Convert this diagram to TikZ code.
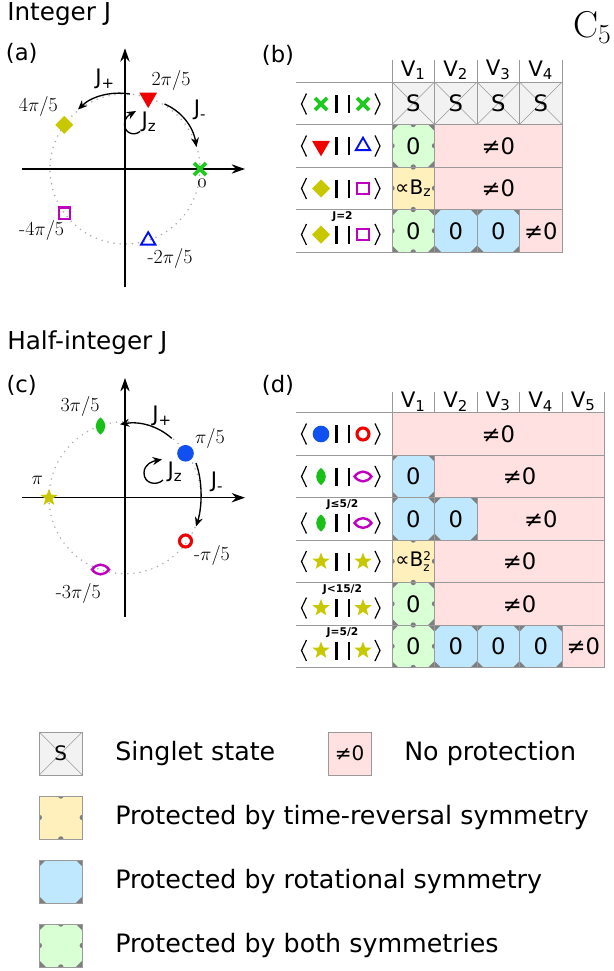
\documentclass[tikz,border=0pt]{standalone}
\usepackage[no-math]{fontspec}
\setmainfont{DejaVu Sans}
\usetikzlibrary{arrows.meta,shapes.geometric,shapes.misc}

\definecolor{mkgreen}{HTML}{22C822}
\definecolor{mkred}{HTML}{F00000}
\definecolor{mkblue}{HTML}{0010F0}
\definecolor{mkdotblue}{HTML}{1050F0}
\definecolor{mkolive}{HTML}{C8C800}
\definecolor{mkmagenta}{HTML}{C000C0}
\definecolor{mklensgreen}{HTML}{18C018}
\definecolor{csinglet}{HTML}{F2F2F2}
\definecolor{cpink}{HTML}{FFE1E1}
\definecolor{cyellow}{HTML}{FFF0BC}
\definecolor{cblue}{HTML}{BFE8FF}
\definecolor{cgreen}{HTML}{D9FFD5}
\definecolor{cellline}{HTML}{9A9A9A}
\definecolor{notchgray}{HTML}{7F7F7F}

\newcommand\angfont{\usefont{TU}{lmr}{m}{n}\fontsize{15}{15}\selectfont}
\newcommand\cfivefont{\usefont{TU}{lmr}{m}{n}\fontsize{28}{28}\selectfont}

% gray corners = rotational symmetry, gray half dots = time reversal
\newcommand\cutcorners{%
  \foreach \c/\sx/\sy in {north west/1/1,north east/-1/1,south west/1/-1,south east/-1/-1}
    \fill[notchgray] (path picture bounding box.\c) -- ++(6.5*\sx,0) -- ++(-6.5*\sx,6.5*\sy) -- cycle;}
\newcommand\midnotches{%
  \foreach \c in {north,south,east,west}
    \fill[notchgray] (path picture bounding box.\c) circle[radius=2.7];}

% one row label <a||b>
\newcommand\ketrow[4]{%
  \draw[ketline] (306.5,#2-10.5) -- (301.5,#2) -- (306.5,#2+10.5);
  \pic (#1l) at (321,#2) {#3};
  \draw[barline] (336.5,#2-9) -- (336.5,#2+9);
  \draw[barline] (349,#2-9) -- (349,#2+9);
  \pic (#1r) at (363,#2) {#4};
  \draw[ketline] (375,#2-10.5) -- (380,#2) -- (375,#2+10.5);}

\tikzset{
  mk/.style={inner sep=0pt, outer sep=0pt},
  mkcross/.pic={\node[mk, cross out, draw=mkgreen, line width=2.9pt, minimum size=9pt] (-m) {};},
  mktridown/.pic={\node[mk, regular polygon, regular polygon sides=3, shape border rotate=180, fill=mkred, minimum size=15.5pt] (-m) {};},
  mktriup/.pic={\node[mk, regular polygon, regular polygon sides=3, draw=mkblue, line width=1.4pt, minimum size=12.5pt] (-m) {};},
  mkdiamond/.pic={\node[mk, diamond, fill=mkolive, minimum size=13.5pt] (-m) {};},
  mksquare/.pic={\node[mk, draw=mkmagenta, line width=1.7pt, minimum size=8.5pt] (-m) {};},
  mkdot/.pic={\node[mk, circle, fill=mkdotblue, minimum size=12.5pt] (-m) {};},
  mkring/.pic={\node[mk, circle, draw=mkred, line width=2.3pt, minimum size=9pt] (-m) {};},
  mkstar/.pic={\node[mk, star, star points=5, star point ratio=2.4, fill=mkolive, minimum size=13.5pt] (-m) {};},
  mkvlens/.pic={\fill[mklensgreen] (0,-8.5) .. controls (6.5,-3.5) and (6.5,3.5) .. (0,8.5) .. controls (-6.5,3.5) and (-6.5,-3.5) .. cycle;},
  mkhlens/.pic={\draw[mkmagenta, line width=1.8pt] (-8.5,0) .. controls (-3.5,-6.5) and (3.5,-6.5) .. (8.5,0) .. controls (3.5,6.5) and (-3.5,6.5) .. cycle;},
  ketline/.style={line width=0.9pt},
  barline/.style={line width=1.9pt},
}

\begin{document}
\begin{tikzpicture}[x=0.75pt, y=-0.75pt,
  title/.style={font=\fontsize{18.5}{18.5}\selectfont, inner sep=0pt, anchor=west},
  panel/.style={font=\fontsize{17}{17}\selectfont, inner sep=0pt},
  angl/.style={font=\angfont, inner sep=0pt},
  jlab/.style={font=\fontsize{16}{16}\selectfont, inner sep=0pt},
  vhead/.style={font=\fontsize{16}{16}\selectfont, inner sep=0pt},
  jcond/.style={font=\bfseries\fontsize{8}{8}\selectfont, inner sep=0pt},
  axis/.style={line width=1.1pt, -{Stealth[length=10pt,width=7pt]}},
  jarrow/.style={line width=1pt, -{Stealth[length=7pt,width=6pt]}},
  orbit/.style={gray!65, line width=1.3pt, line cap=round, dash pattern=on 0pt off 4.6pt},
  gridline/.style={cellline, line width=0.75pt},
  cell/.style={draw=cellline, line width=0.6pt, inner sep=0pt, outer sep=0pt,
    minimum width=31.875pt, minimum height=31.875pt, font=\fontsize{17}{17}\selectfont},
  ncols/.style={minimum width=#1*31.875pt},
  singletcell/.style={cell, fill=csinglet, path picture={
    \draw[cellline, line width=0.45pt] (path picture bounding box.north west) -- (path picture bounding box.south east)
      (path picture bounding box.north east) -- (path picture bounding box.south west);}},
  pinkcell/.style={cell, fill=cpink},
  trcell/.style={cell, fill=cyellow, path picture={\midnotches}},
  rotcell/.style={cell, fill=cblue, path picture={\cutcorners}},
  bothcell/.style={cell, fill=cgreen, path picture={\cutcorners\midnotches}},
  smalltext/.style={font=\fontsize{15}{15}\selectfont},
  legsize/.style={minimum width=32.25pt, minimum height=32.25pt, font=\fontsize{15}{15}\selectfont},
  legtext/.style={anchor=west, inner sep=0pt, font=\fontsize{19}{19}\selectfont},
]
\useasboundingbox (0,0) rectangle (614,971);

% headings
\node[title] (tint) at (7,14) {Integer J};
\node[title] (thalf) at (7,343) {Half-integer J};
\node[panel] (pa) at (21.7,53) {(a)};
\node[panel] (pb) at (278,55) {(b)};
\node[panel] (pc) at (21.7,385) {(c)};
\node[panel] (pd) at (278,385) {(d)};
\node[inner sep=0pt, anchor=base west, font=\cfivefont] (cfive) at (573,37) {C$_5$};

% (a) integer J
\draw[orbit] (125,169) circle[radius=75];
\draw[axis] (21.7,169) -- (245,169);
\draw[axis] (125,286.7) -- (125,48.3);
\pic (a0) at (200,169) {mkcross};
\pic (a72) at (148.2,97.7) {mktridown};
\pic (a144) at (64.3,124.9) {mkdiamond};
\pic (am144) at (64.3,213.1) {mksquare};
\pic (am72) at (148.2,240.5) {mktriup};
\node[angl] (la72) at (171,80) {2$\pi$/5};
\node[angl] (la144) at (38.3,106) {4$\pi$/5};
\node[angl] (la0) at (202,183) {$\mathnormal{0}$};
\node[angl] (lam144) at (41.7,230) {-4$\pi$/5};
\node[angl] (lam72) at (170,258.3) {-2$\pi$/5};
\coordinate (jpa1) at (130,94);
\coordinate (jpa2) at (78,109.5);
\coordinate (jma1) at (164.5,104);
\coordinate (jma2) at (196.5,147);
\coordinate (jza1) at (140,131.5);
\coordinate (jza2) at (136,111);
\draw[jarrow] (jpa1) .. controls (112,91) and (92,96) .. (jpa2);
\draw[jarrow] (jma1) .. controls (181,111) and (193,126) .. (jma2);
\draw[jarrow] (jza1) .. controls (133,137) and (124,132) .. (124.5,124) .. controls (125,117) and (129,115) .. (jza2);
\node[jlab] (jpa) at (105,79) {J\textsubscript{+}};
\node[jlab] (jma) at (200,110) {J\textsubscript{-}};
\node[jlab] (jza) at (149,122) {J\textsubscript{z}};

% (c) half-integer J
\draw[orbit] (125,497.7) circle[radius=76];
\draw[axis] (21.7,497.7) -- (245,497.7);
\draw[axis] (125,616.7) -- (125,378);
\pic (c36) at (185.5,453.3) {mkdot};
\pic (c108) at (100.5,426) {mkvlens};
\pic (c180) at (49,497.7) {mkstar};
\pic (cm108) at (100.5,569.5) {mkhlens};
\pic (cm36) at (185.5,541) {mkring};
\node[angl] (lc108) at (80,406.7) {3$\pi$/5};
\node[angl] (lc36) at (210,438) {$\pi$/5};
\node[angl] (lc180) at (37.3,480) {$\pi$};
\node[angl] (lcm36) at (212,555) {-$\pi$/5};
\node[angl] (lcm108) at (78.3,593.3) {-3$\pi$/5};
\coordinate (jpc1) at (171.7,438.3);
\coordinate (jpc2) at (120,424.3);
\coordinate (jmc1) at (196,463);
\coordinate (jmc2) at (196,526.5);
\coordinate (jzc1) at (163,480);
\coordinate (jzc2) at (162,459.5);
\draw[jarrow] (jpc1) .. controls (158,426) and (140,421) .. (jpc2);
\draw[jarrow] (jmc1) .. controls (203,482) and (202,508) .. (jmc2);
\draw[jarrow] (jzc1) .. controls (157,486) and (144,484) .. (144,473) .. controls (144,464) and (153,461) .. (jzc2);
\node[jlab] (jpc) at (162,416) {J\textsubscript{+}};
\node[jlab] (jmc) at (217,482) {J\textsubscript{-}};
\node[jlab] (jzc) at (175,472) {J\textsubscript{z}};

% (b) table
\foreach \y in {82,124.5,167,209.5,252} \draw[gridline] (296,\y) -- (562,\y);
\foreach \x in {392,434.5,477,519.5,562} \draw[gridline] (\x,60) -- (\x,82);
\foreach \j in {1,...,4} \node[vhead] (bv\j) at ({392+42.5*(\j-0.5)},70) {V\textsubscript{\j}};
\foreach \j in {1,...,4} \node[singletcell] (bs\j) at ({392+42.5*(\j-0.5)},103.25) {S};
\node[bothcell] (b21) at (413.25,145.75) {0};
\node[pinkcell, ncols=3] (b22) at (498.25,145.75) {≠0};
\node[trcell, smalltext] (b31) at (413.25,188.25) {∝B\textsubscript{z}};
\node[pinkcell, ncols=3] (b32) at (498.25,188.25) {≠0};
\node[bothcell] (b41) at (413.25,230.75) {0};
\node[rotcell] (b42) at (455.75,230.75) {0};
\node[rotcell] (b43) at (498.25,230.75) {0};
\node[pinkcell] (b44) at (540.75,230.75) {≠0};
\ketrow{bk1}{104}{mkcross}{mkcross}
\ketrow{bk2}{146}{mktridown}{mktriup}
\ketrow{bk3}{188.5}{mkdiamond}{mksquare}
\ketrow{bk4}{234.5}{mkdiamond}{mksquare}
\node[jcond] (bj4) at (342.5,217) {J=2};

% (d) table
\foreach \y in {412.5,455,497.5,540,582.5,625,667.5} \draw[gridline] (296,\y) -- (604.5,\y);
\foreach \x in {392,434.5,477,519.5,562,604.5} \draw[gridline] (\x,391.5) -- (\x,412.5);
\foreach \j in {1,...,5} \node[vhead] (dv\j) at ({392+42.5*(\j-0.5)},401.5) {V\textsubscript{\j}};
\node[pinkcell, ncols=5] (d11) at (498.25,433.75) {≠0};
\node[rotcell] (d21) at (413.25,476.25) {0};
\node[pinkcell, ncols=4] (d22) at (519.5,476.25) {≠0};
\node[rotcell] (d31) at (413.25,518.75) {0};
\node[rotcell] (d32) at (455.75,518.75) {0};
\node[pinkcell, ncols=3] (d33) at (540.75,518.75) {≠0};
\node[trcell, smalltext] (d41) at (413.25,561.25) {∝B\raisebox{-0.45ex}{\fontsize{9}{8.5}\selectfont\shortstack[l]{2\\z}}};
\node[pinkcell, ncols=4] (d42) at (519.5,561.25) {≠0};
\node[bothcell] (d51) at (413.25,603.75) {0};
\node[pinkcell, ncols=4] (d52) at (519.5,603.75) {≠0};
\node[bothcell] (d61) at (413.25,646.25) {0};
\node[rotcell] (d62) at (455.75,646.25) {0};
\node[rotcell] (d63) at (498.25,646.25) {0};
\node[rotcell] (d64) at (540.75,646.25) {0};
\node[pinkcell] (d65) at (583.25,646.25) {≠0};
\ketrow{dk1}{434}{mkdot}{mkring}
\ketrow{dk2}{476.5}{mkvlens}{mkhlens}
\ketrow{dk3}{523}{mkvlens}{mkhlens}
\node[jcond] (dj3) at (342.5,505) {J≤5/2};
\ketrow{dk4}{561.5}{mkstar}{mkstar}
\ketrow{dk5}{608}{mkstar}{mkstar}
\node[jcond] (dj5) at (342.5,590) {J<15/2};
\ketrow{dk6}{650.5}{mkstar}{mkstar}
\node[jcond] (dj6) at (342.5,633) {J=5/2};

% legend
\node[singletcell, legsize] (lg1) at (60.8,753.5) {S};
\node[legtext] (lt1) at (115,753.5) {Singlet state};
\node[pinkcell, legsize] (lg2) at (349.7,753.5) {≠0};
\node[legtext] (lt2) at (404,753.5) {No protection};
\node[trcell, legsize] (lg3) at (60.8,817.5) {};
\node[legtext] (lt3) at (115,817.5) {Protected by time-reversal symmetry};
\node[rotcell, legsize] (lg4) at (60.8,881.5) {};
\node[legtext] (lt4) at (115,881.5) {Protected by rotational symmetry};
\node[bothcell, legsize] (lg5) at (60.8,945.5) {};
\node[legtext] (lt5) at (115,945.5) {Protected by both symmetries};
\end{tikzpicture}
\end{document}
